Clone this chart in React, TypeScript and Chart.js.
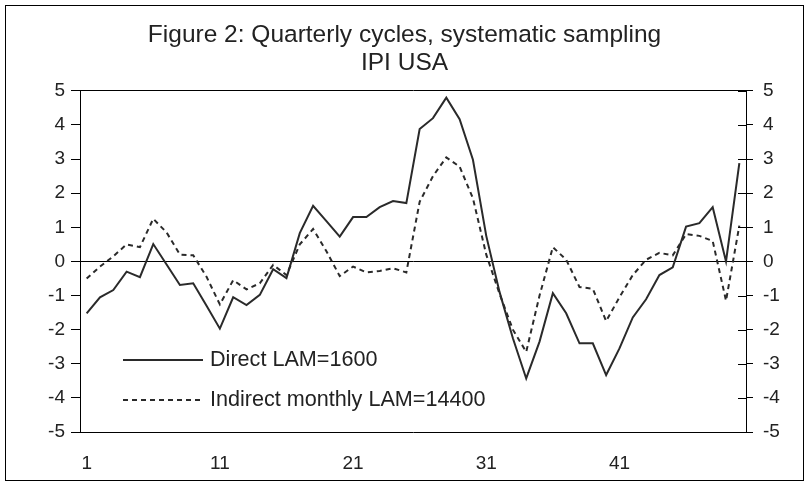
import React, { useEffect, useRef } from 'react';
import { Chart, registerables } from 'chart.js';

Chart.register(...registerables);

const categories = [
  '1', '2', '3', '4', '5', '6', '7', '8', '9', '10',
  '11', '12', '13', '14', '15', '16', '17', '18', '19', '20',
  '21', '22', '23', '24', '25', '26', '27', '28', '29', '30',
  '31', '32', '33', '34', '35', '36', '37', '38', '39', '40',
  '41', '42', '43', '44', '45', '46', '47', '48', '49', '50',
];
const tickLabels = ['1', '11', '21', '31', '41'];

const directLabel = 'Direct LAM=1600';
const direct = [
  -1.52, -1.05, -0.84, -0.30, -0.46, 0.51, -0.09, -0.69, -0.64, -1.30,
  -1.97, -1.05, -1.28, -0.98, -0.23, -0.49, 0.83, 1.63, 1.18, 0.73,
  1.30, 1.30, 1.59, 1.77, 1.71, 3.88, 4.20, 4.80, 4.17, 2.98,
  0.75, -0.90, -2.25, -3.43, -2.35, -0.93, -1.52, -2.40, -2.40, -3.33,
  -2.55, -1.64, -1.11, -0.40, -0.17, 1.02, 1.12, 1.59, 0.00, 2.88,
];

const indirectLabel = 'Indirect monthly LAM=14400';
const indirect = [
  -0.50, -0.15, 0.15, 0.50, 0.42, 1.25, 0.85, 0.20, 0.18, -0.45,
  -1.26, -0.55, -0.82, -0.64, -0.10, -0.40, 0.50, 0.95, 0.30, -0.43,
  -0.15, -0.32, -0.28, -0.20, -0.32, 1.75, 2.50, 3.05, 2.78, 1.85,
  0.20, -0.95, -2.00, -2.65, -1.00, 0.42, 0.05, -0.75, -0.80, -1.75,
  -1.05, -0.40, 0.05, 0.25, 0.18, 0.80, 0.75, 0.60, -1.15, 1.05,
];

const titleLines = ['Figure 2: Quarterly cycles, systematic sampling', 'IPI USA'];
const yMin = -5;
const yMax = 5;

const FONT = "'Liberation Sans', Arial, sans-serif";
const INK = '#222222';
const LINE = '#2a2a2a';
const DASH = [5, 4];

const decor = {
  id: 'decor',
  beforeDraw(chart: any) {
    const ctx = chart.ctx;
    ctx.save();
    ctx.fillStyle = '#ffffff';
    ctx.fillRect(0, 0, chart.width, chart.height);
    ctx.strokeStyle = '#000000';
    ctx.lineWidth = 1;
    ctx.strokeRect(5.5, 5.5, chart.width - 11, chart.height - 9);
    ctx.restore();
  },
  afterDraw(chart: any) {
    const ctx = chart.ctx;
    const a = chart.chartArea;
    const y1 = chart.scales.y1;
    ctx.save();
    ctx.strokeStyle = '#000000';
    ctx.lineWidth = 1;
    y1.ticks.forEach((t: any) => {
      const y = Math.round(y1.getPixelForValue(t.value)) + 0.5;
      ctx.beginPath();
      ctx.moveTo(a.right - 8, y);
      ctx.lineTo(a.right, y);
      ctx.stroke();
    });
    // legend inside plot area
    const x0 = a.left + 43;
    const x1 = a.left + 123;
    const tx = a.left + 130;
    const rows = [a.top + 269, a.top + 309];
    chart.data.datasets.forEach((ds: any, i: number) => {
      const y = rows[i];
      ctx.strokeStyle = ds.borderColor;
      ctx.lineWidth = ds.borderWidth;
      ctx.setLineDash(ds.borderDash || []);
      ctx.beginPath();
      ctx.moveTo(x0, y);
      ctx.lineTo(x1, y);
      ctx.stroke();
      ctx.setLineDash([]);
      ctx.fillStyle = INK;
      ctx.font = `21.6px ${FONT}`;
      ctx.textBaseline = 'middle';
      ctx.textAlign = 'left';
      ctx.fillText(ds.label, tx, y);
    });
    ctx.restore();
  },
};

export default function App() {
  const ref = useRef<HTMLCanvasElement | null>(null);

  useEffect(() => {
    if (!ref.current) return;
    const chart = new Chart(ref.current, {
      type: 'line',
      data: {
        labels: categories,
        datasets: [
          {
            label: directLabel,
            data: direct,
            borderColor: LINE,
            borderWidth: 2,
            pointRadius: 0,
            tension: 0,
            yAxisID: 'y',
          },
          {
            label: indirectLabel,
            data: indirect,
            borderColor: LINE,
            borderWidth: 2,
            borderDash: DASH,
            pointRadius: 0,
            tension: 0,
            yAxisID: 'y',
          },
        ],
      },
      options: {
        responsive: false,
        animation: false,
        events: [],
        layout: { padding: { left: 0, right: 0, top: 0, bottom: 0 } },
        plugins: {
          legend: { display: false },
          tooltip: { enabled: false },
          title: {
            display: true,
            text: titleLines,
            color: INK,
            font: { family: FONT, size: 24.5, weight: 'normal', lineHeight: 1.12 },
            padding: { top: 22, bottom: 14 },
          },
        },
        scales: {
          x: {
            type: 'category',
            offset: true,
            grid: { display: false, drawTicks: false },
            border: { display: true, color: '#000000', width: 1 },
            ticks: {
              autoSkip: false,
              maxRotation: 0,
              padding: 20,
              color: INK,
              font: { family: FONT, size: 19 },
              callback: (_v: any, i: number) =>
                tickLabels.includes(categories[i]) ? categories[i] : '',
            },
            afterFit: (s: any) => { s.height = 52; },
          },
          y: {
            position: 'left',
            min: yMin,
            max: yMax,
            ticks: {
              stepSize: 1,
              padding: 6,
              color: INK,
              font: { family: FONT, size: 19 },
            },
            grid: {
              color: (c: any) =>
                c.tick && (c.tick.value === 0 || c.tick.value === yMax) ? '#000000' : 'rgba(0,0,0,0)',
              tickColor: '#000000',
              tickLength: 9,
              lineWidth: 1,
            },
            border: { display: true, color: '#000000', width: 1 },
            afterFit: (s: any) => { s.width = 80; },
          },
          y1: {
            position: 'right',
            min: yMin,
            max: yMax,
            ticks: {
              stepSize: 1,
              padding: 10,
              color: INK,
              font: { family: FONT, size: 19 },
            },
            grid: {
              drawOnChartArea: false,
              tickColor: '#000000',
              tickLength: 7,
            },
            border: { display: true, color: '#000000', width: 1 },
            afterFit: (s: any) => { s.width = 63; },
          },
        },
      },
      plugins: [decor],
    });
    return () => chart.destroy();
  }, []);

  return (
    <div style={{ position: 'fixed', left: 0, top: 0, width: 809, height: 484, background: '#fff' }}>
      <canvas ref={ref} width={809} height={484} style={{ width: 809, height: 484 }} />
    </div>
  );
}
